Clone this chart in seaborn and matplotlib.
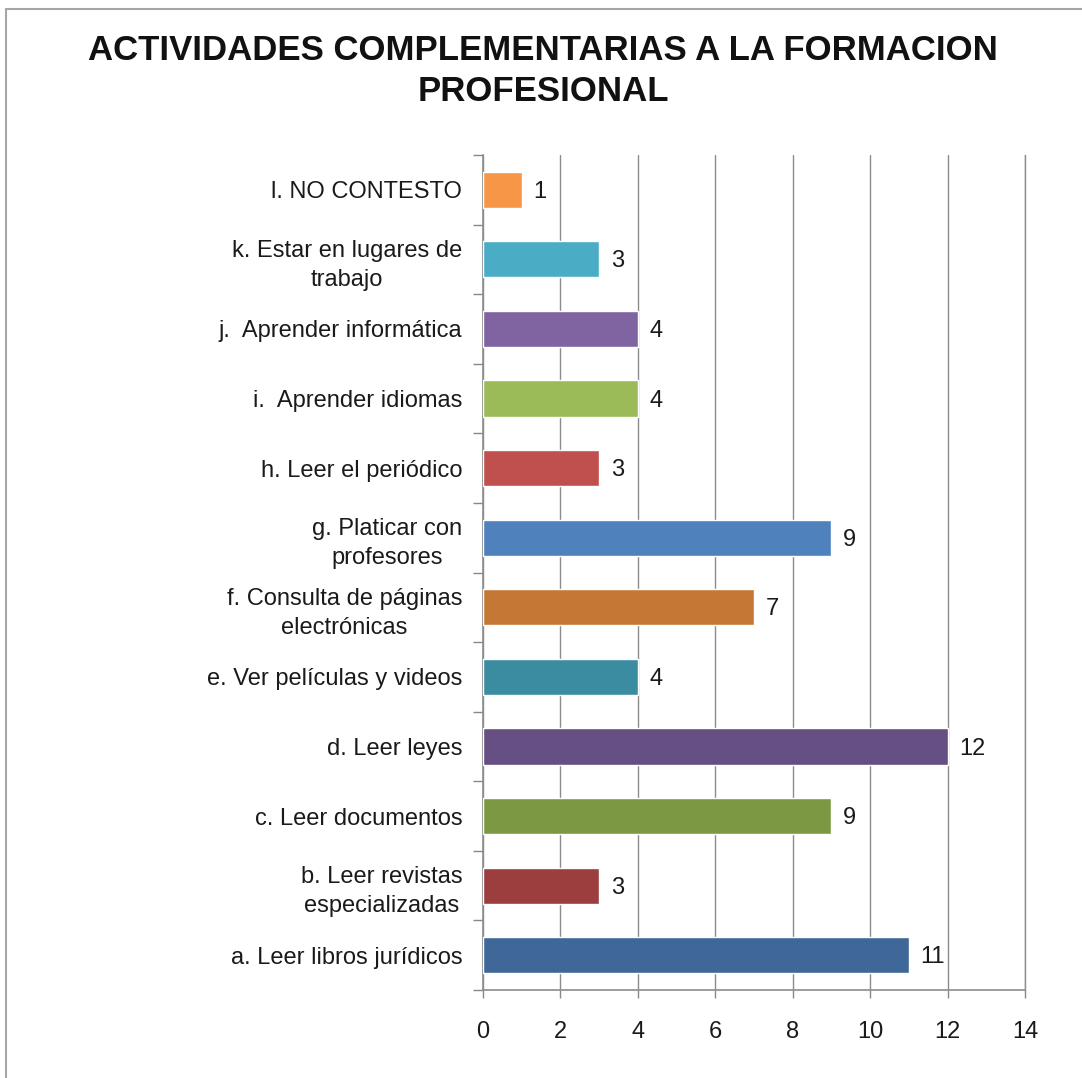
import matplotlib
matplotlib.use("Agg")
import matplotlib.pyplot as plt
import seaborn as sns
import pandas as pd
from matplotlib.lines import Line2D

categories = [
    "l. NO CONTESTO",
    "k. Estar en lugares de\ntrabajo",
    "j.  Aprender informática",
    "i.  Aprender idiomas",
    "h. Leer el periódico",
    "g. Platicar con\nprofesores",
    "f. Consulta de páginas\nelectrónicas",
    "e. Ver películas y videos",
    "d. Leer leyes",
    "c. Leer documentos",
    "b. Leer revistas\nespecializadas",
    "a. Leer libros jurídicos",
]
values = [1, 3, 4, 4, 3, 9, 7, 4, 12, 9, 3, 11]
colors = ["#F79646", "#4BACC6", "#8064A2", "#9BBB59", "#C0504D", "#4F81BD",
          "#C57835", "#3C8CA1", "#664F83", "#7C9842", "#9B3E3D", "#3F6898"]
x_ticks = [0, 2, 4, 6, 8, 10, 12, 14]
title = "ACTIVIDADES COMPLEMENTARIAS A LA FORMACION\nPROFESIONAL"

sns.set_style("white")
plt.rcParams['font.family'] = ['Liberation Sans', 'DejaVu Sans']

df = pd.DataFrame({"cat": categories, "val": values})

fig = plt.figure(figsize=(10.82, 10.78), dpi=100)
ax = fig.add_axes([483/1082, 1 - 990/1078, (1025-483)/1082, (990-155)/1078])

sns.barplot(data=df, y="cat", x="val", hue="cat", palette=colors, order=categories,
            hue_order=categories, legend=False, width=0.52, ax=ax, zorder=3,
            saturation=1)

ax.set_xlim(0, 14)
ax.set_ylim(len(categories) - 0.5, -0.5)
ax.set_xticks(x_ticks)
ax.set_xticklabels([str(t) for t in x_ticks], fontsize=17, color="#1a1a1a")
ax.tick_params(axis="x", which="major", length=6, width=1, color="#888888", pad=16, direction="out", bottom=True)
ax.set_yticks(range(len(categories)))
ax.set_yticklabels(categories, fontsize=17, color="#1a1a1a", multialignment="center",
                   linespacing=1.4)
ax.tick_params(axis="y", which="major", length=0, pad=15)
ax.set_yticks([i - 0.5 for i in range(len(categories) + 1)], minor=True)
ax.tick_params(axis="y", which="minor", length=7, width=1, color="#888888", left=True)
ax.set_xlabel("")
ax.set_ylabel("")

ax.grid(axis="x", color="#8c8c8c", linewidth=1, zorder=0)
ax.set_axisbelow(True)
ax.spines["top"].set_visible(False)
for s in ["left", "bottom", "right"]:
    ax.spines[s].set_color("#8c8c8c")
    ax.spines[s].set_linewidth(1.2)
ax.spines["right"].set_linewidth(1.0)

for i, v in enumerate(values):
    ax.text(v + 0.3, i + 0.03, str(v), va="center", ha="left", fontsize=17, color="#1a1a1a", zorder=4)

fig.text(543/1082, 1 - 71/1078, title, ha="center", va="center", fontsize=25,
         fontweight="bold", color="#111111", linespacing=1.3)

fig.add_artist(Line2D([6/1082, 6/1082], [0, 1 - 9/1078], transform=fig.transFigure,
                      color="#a6a6a6", linewidth=1.5))
fig.add_artist(Line2D([6/1082, 1], [1 - 9/1078, 1 - 9/1078], transform=fig.transFigure,
                      color="#a6a6a6", linewidth=1.5))

fig.savefig("out.png", dpi=100, facecolor="white")
